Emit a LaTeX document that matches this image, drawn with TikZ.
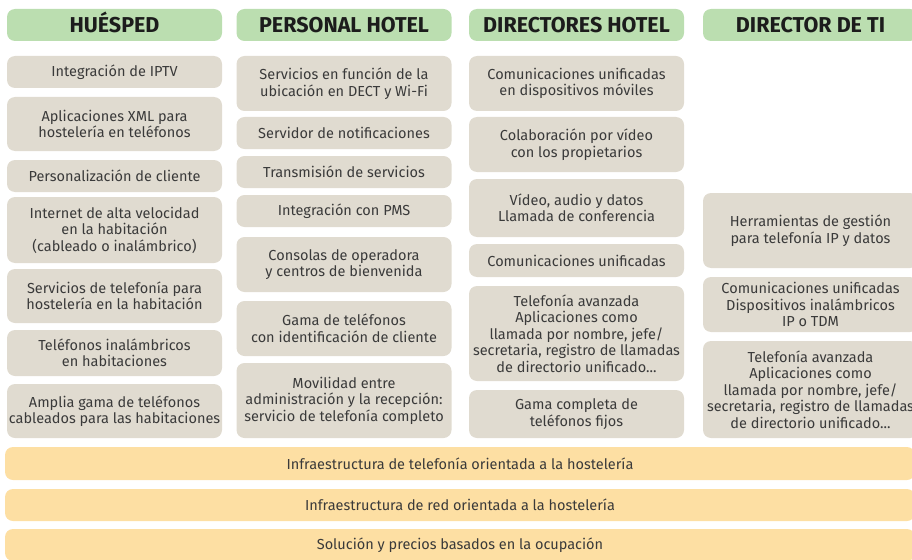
\documentclass[tikz,border=0pt]{standalone}
\usepackage{fontspec}
\setmainfont{Fira Sans}
\usepackage{tikz}
\usetikzlibrary{backgrounds}

\definecolor{hdrgreen}{HTML}{BBDEB0}
\definecolor{cellbeige}{HTML}{E0DBD0}
\definecolor{barorange}{HTML}{FDDFA3}
\definecolor{celltext}{HTML}{3A3A3A}
\definecolor{hdrtext}{HTML}{1C1C1C}

\begin{document}
\begin{tikzpicture}[x=1pt,y=-1pt]
		\useasboundingbox (0,0) rectangle (912,559);
		\clip (0,0) rectangle (912,559);

		% column headers
		\begin{scope}[every node/.style={rectangle,rounded corners=8pt,fill=hdrgreen,text=hdrtext,
		              minimum width=215pt,minimum height=32pt,inner sep=0pt,
		              text height=15pt,text depth=0pt,
		              font=\bfseries\fontsize{21.5}{24}\selectfont}]
			\node (hg) at (114.5,25) {HUÉSPED};
			\node (hs) at (344,25) {PERSONAL HOTEL};
			\node (hm) at (576.5,25) {DIRECTORES HOTEL};
			\node (ht) at (810.5,25) {DIRECTOR DE TI};
		\end{scope}

		% service boxes
		\begin{scope}[every node/.style={rectangle,rounded corners=8pt,fill=cellbeige,text=celltext,
		              minimum width=215pt,inner sep=0pt,align=center,
		              font=\fontsize{14.5}{16.5}\selectfont}]
			\node[minimum height=32pt] (g1) at (114.5,72) {Integración de IPTV};
			\node[minimum height=54pt] (g2) at (114.5,124) {Aplicaciones XML para\\hostelería en teléfonos};
			\node[minimum height=32pt] (g3) at (114.5,176) {Personalización de cliente};
			\node[minimum height=66pt] (g4) at (114.5,230) {Internet de alta velocidad\\en la habitación\\(cableado o inalámbrico)};
			\node[minimum height=54pt] (g5) at (114.5,296) {Servicios de telefonía para\\hostelería en la habitación};
			\node[minimum height=46pt] (g6) at (114.5,353) {Teléfonos inalámbricos\\en habitaciones};
			\node[minimum height=54pt] (g7) at (114.5,411) {Amplia gama de teléfonos\\cableados para las habitaciones};

			\node[minimum height=55pt] (s1) at (344,83.5) {Servicios en función de la\\ubicación en DECT y Wi-Fi};
			\node[minimum height=32pt] (s2) at (344,133) {Servidor de notificaciones};
			\node[minimum height=32pt] (s3) at (344,172) {Transmisión de servicios};
			\node[minimum height=32pt] (s4) at (344,211) {Integración con PMS};
			\node[minimum height=55pt] (s5) at (344,264.5) {Consolas de operadora\\y centros de bienvenida};
			\node[minimum height=55pt] (s6) at (344,328.5) {Gama de teléfonos\\con identificación de cliente};
			\node[minimum height=75pt] (s7) at (344,400.5) {Movilidad entre\\administración y la recepción:\\servicio de telefonía completo};

			\node[minimum height=55pt] (m1) at (576.5,83.5) {Comunicaciones unificadas\\en dispositivos móviles};
			\node[minimum height=55pt] (m2) at (576.5,144.5) {Colaboración por vídeo\\con los propietarios};
			\node[minimum height=58pt] (m3) at (576.5,208) {Vídeo, audio y datos\\Llamada de conferencia};
			\node[minimum height=33pt] (m4) at (576.5,260.5) {Comunicaciones unificadas};
			\node[minimum height=95pt] (m5) at (576.5,333.5) {Telefonía avanzada\\Aplicaciones como\\llamada por nombre, jefe/\\secretaria, registro de llamadas\\de directorio unificado...};
			\node[minimum height=48pt] (m6) at (576.5,414) {Gama completa de\\teléfonos fijos};

			\node[minimum height=75pt] (t1) at (810.5,230.5) {Herramientas de gestión\\para telefonía IP y datos};
			\node[minimum height=55pt] (t2) at (810.5,304.5) {Comunicaciones unificadas\\Dispositivos inalámbricos\\IP o TDM};
			\node[minimum height=97pt] (t3) at (810.5,389.5) {Telefonía avanzada\\Aplicaciones como\\llamada por nombre, jefe/\\secretaria, registro de llamadas\\de directorio unificado...};
		\end{scope}

		% base layers
		\begin{scope}[every node/.style={rectangle,rounded corners=8pt,fill=barorange,text=celltext,
		              minimum width=910pt,inner sep=0pt,
		              font=\fontsize{14.5}{16.5}\selectfont}]
			\node[minimum height=33pt] (b1) at (460,463.5) {Infraestructura de telefonía orientada a la hostelería};
			\node[minimum height=32pt] (b2) at (460,505) {Infraestructura de red orientada a la hostelería};
			\node[minimum height=32pt] (b3) at (460,545) {Solución y precios basados en la ocupación};
		\end{scope}
\end{tikzpicture}
\end{document}
